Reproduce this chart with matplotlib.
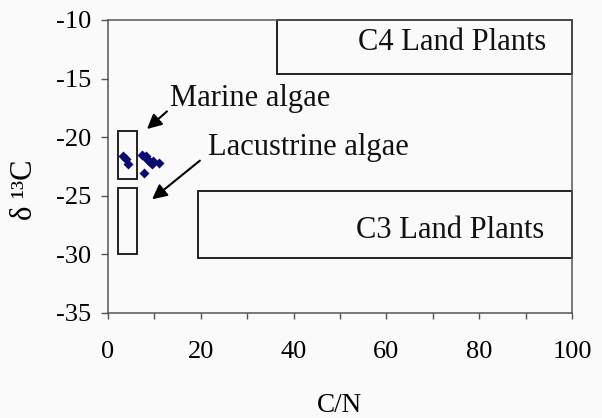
import matplotlib
matplotlib.use("Agg")
import matplotlib.pyplot as plt
from matplotlib.patches import Rectangle

# ---- data ----
cn_ratio = [3.3, 3.9, 4.4, 7.4, 8.0, 8.5, 9.05, 9.4, 11.0, 7.8, 8.2, 8.8, 9.6]
d13c = [-21.6, -21.9, -22.3, -21.5, -21.7, -21.9, -22.1, -22.3, -22.2, -23.05, -21.6, -22.0, -22.0]

box_names = ["C4 Land Plants", "C3 Land Plants", "Marine algae", "Lacustrine algae"]
box_x0 = [36.4, 19.3, 2.1, 2.1]
box_x1 = [100, 100, 6.3, 6.3]
box_y0 = [-14.6, -30.3, -23.6, -30.0]
box_y1 = [-10, -24.6, -19.5, -24.3]

x_ticks = [0, 20, 40, 60, 80, 100]
y_ticks = [-35, -30, -25, -20, -15, -10]

plt.rcParams['font.family'] = ['Liberation Serif', 'DejaVu Serif']

fig = plt.figure(figsize=(6.02, 4.18), dpi=100, facecolor='#fafafa')
ax = fig.add_axes([108/602, 1-313/418, (572-108)/602, (313-20)/418])
ax.set_facecolor('#fafafa')

ax.set_xlim(0, 100)
ax.set_ylim(-35, -10)

# boxes
for x0, x1, y0, y1 in zip(box_x0, box_x1, box_y0, box_y1):
    ax.add_patch(Rectangle((x0, y0), x1 - x0, y1 - y0, fill=False,
                           edgecolor='#222222', lw=1.4, clip_on=False, zorder=2))

# points
ax.scatter(cn_ratio, d13c, marker='D', s=26, color='#0b0b70', zorder=3, linewidths=0)

# labels in boxes
ax.text(74.1, -11.95, box_names[0], fontsize=22, ha='center', va='center', color='#111111')
ax.text(73.7, -27.97, box_names[1], fontsize=22, ha='center', va='center', color='#111111')

# arrows and algae labels
ax.text(13.4, -16.7, box_names[2], fontsize=22, ha='left', va='center', color='#111111')
ax.text(21.6, -20.85, box_names[3], fontsize=22, ha='left', va='center', color='#111111')
ax.annotate("", xy=(8.4, -19.3), xytext=(12.7, -17.8),
            arrowprops=dict(arrowstyle='-|>', color='black', lw=1.5, mutation_scale=22,
                            shrinkA=0, shrinkB=0))
ax.annotate("", xy=(9.5, -25.3), xytext=(19.8, -22.0),
            arrowprops=dict(arrowstyle='-|>', color='black', lw=1.5, mutation_scale=22,
                            shrinkA=0, shrinkB=0))

# axes styling
for s in ax.spines.values():
    s.set_color('#5a5252')
    s.set_linewidth(1.1)

ax.set_xticks(x_ticks)
ax.set_xticks(range(0, 101, 10), minor=True)
ax.set_yticks(y_ticks)
ax.set_xticklabels([str(v) for v in x_ticks])
ax.set_yticklabels([str(v) for v in y_ticks])
ax.tick_params(axis='x', which='both', direction='out', length=4.5, width=1.0,
               color='#5a5252', labelsize=19, pad=16)
ax.tick_params(axis='y', which='both', direction='out', length=5, width=1.0,
               color='#5a5252', labelsize=19, pad=7)

fig.text(339/602, 1-406/418, "C/N", fontsize=19.5, ha='center', va='center')
fig.text(24/602, 1-190/418, "δ ¹³C", fontsize=22, ha='center', va='center', rotation=90)

fig.savefig("out.png", dpi=100, facecolor=fig.get_facecolor())
